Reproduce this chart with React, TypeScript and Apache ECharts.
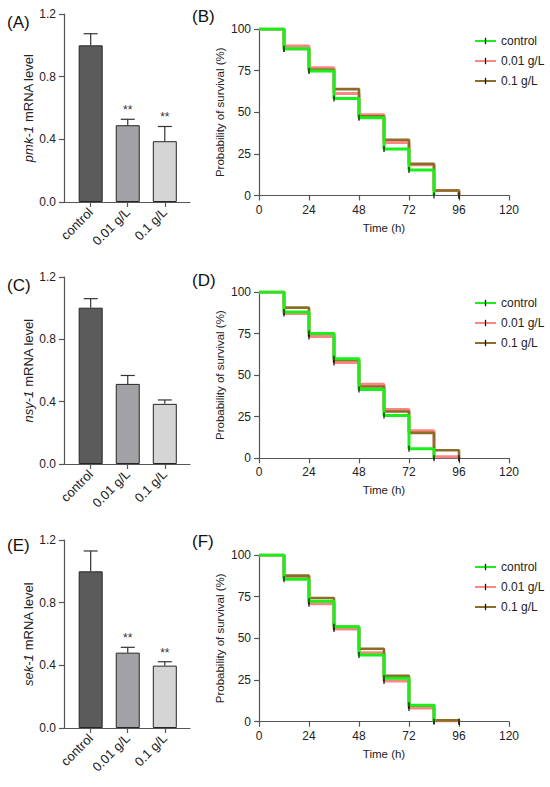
import React, { useEffect, useRef } from "react";
import * as echarts from "echarts";

// ---------- data ----------
const groups = ["control", "0.01 g/L", "0.1 g/L"];

const pmkMean = [1.0, 0.49, 0.388];
const pmkErrTop = [1.074, 0.528, 0.482];
const pmkSig = ["", "**", "**"];

const nsyMean = [1.003, 0.514, 0.386];
const nsyErrTop = [1.061, 0.568, 0.411];
const nsySig = ["", "", ""];

const sekMean = [1.0, 0.481, 0.398];
const sekErrTop = [1.13, 0.515, 0.423];
const sekSig = ["", "**", "**"];

const timePoints = [0, 12, 24, 36, 48, 60, 72, 84, 96];

const bControl = [100, 88.2, 74.7, 58.2, 46.7, 27.9, 15.3, 0];
const bLow = [100, 89.8, 76.8, 61.3, 48.5, 31.8, 18.5, 3, 0];
const bHigh = [100, 88, 75.5, 63.9, 47.5, 33.5, 19, 3, 0];

const dControl = [100, 88, 75.1, 59.8, 41.4, 25.7, 5.8, 0];
const dLow = [100, 87.1, 73.3, 57.6, 44.6, 29.3, 16.5, 1, 0];
const dHigh = [100, 90.6, 75, 59.2, 43.2, 28.1, 15.3, 4.8, 0];

const fControl = [100, 85.4, 72.2, 57, 40, 26, 9.8, 0];
const fLow = [100, 86.4, 70.8, 55.6, 41.4, 24.4, 8.2, 0.6, 0];
const fHigh = [100, 87.6, 74.2, 57, 43.8, 27.6, 9.8, 0.8, 0];

const barTicks = [0, 0.4, 0.8, 1.2];
const timeTicks = [0, 24, 48, 72, 96, 120];
const survTicks = [0, 25, 50, 75, 100];

// ---------- style ----------
const FONT = "Liberation Sans, Arial, sans-serif";
const AXIS_COLOR = "#555";
const TEXT_COLOR = "#222";
const barColors = ["#5b5b5b", "#a2a2a6", "#d5d5d5"];
const lineColors = ["#19f019", "#ff8585", "#8a6e28"];
const lineWidths = [3, 3, 2.6];
const lineZ = [4, 2, 3];
// thin vertical tick inside a square bounding box
const TICK_SYMBOL = "path://M0 0M6 6M2.4 0H3.6V6H2.4Z";

export default function App() {
  const ref = useRef<HTMLDivElement>(null);

  useEffect(() => {
    if (!ref.current) return;
    const chart = echarts.init(ref.current, undefined, { renderer: "svg" });

    const barPanels = [
      { top: 14, height: 188, gene: "pmk-1", mean: pmkMean, err: pmkErrTop, sig: pmkSig },
      { top: 277, height: 187, gene: "nsy-1", mean: nsyMean, err: nsyErrTop, sig: nsySig },
      { top: 540, height: 188, gene: "sek-1", mean: sekMean, err: sekErrTop, sig: sekSig },
    ];
    const survPanels = [
      { top: 29, height: 166.5, legendTop: 30, sets: [bControl, bLow, bHigh] },
      { top: 292, height: 166.3, legendTop: 292, sets: [dControl, dLow, dHigh] },
      { top: 555, height: 166.7, legendTop: 556, sets: [fControl, fLow, fHigh] },
    ];

    const grids: any[] = [];
    const xAxes: any[] = [];
    const yAxes: any[] = [];
    const series: any[] = [];
    const legends: any[] = [];

    const axisLine = { show: true, onZero: false, lineStyle: { color: AXIS_COLOR, width: 1.2 } };
    const axisTick = { show: true, length: 5, lineStyle: { color: AXIS_COLOR, width: 1.2 } };
    const axisLabel = { color: TEXT_COLOR, fontSize: 12, fontFamily: FONT, margin: 8 };

    barPanels.forEach((p) => {
      const gi = grids.length;
      grids.push({ left: 64, top: p.top, width: 126, height: p.height });
      xAxes.push({
        type: "value",
        gridIndex: gi,
        min: -0.72,
        max: 2.68,
        axisLine,
        axisTick: { ...axisTick, customValues: [0, 1, 2] },
        axisLabel: {
          ...axisLabel,
          fontSize: 13,
          rotate: 45,
          customValues: [0, 1, 2],
          formatter: (v: number) => groups[Math.round(v)] ?? "",
        },
        splitLine: { show: false },
      });
      yAxes.push({
        type: "value",
        gridIndex: gi,
        min: 0,
        max: 1.2,
        interval: 0.4,
        axisLine,
        axisTick,
        axisLabel: { ...axisLabel, formatter: (v: number) => v.toFixed(1), customValues: barTicks },
        splitLine: { show: false },
        name: `{i|${p.gene}} mRNA level`,
        nameLocation: "middle",
        nameGap: 25,
        nameTextStyle: {
          fontSize: 13,
          color: TEXT_COLOR,
          fontFamily: FONT,
          rich: { i: { fontStyle: "italic", fontSize: 13, fontFamily: FONT, color: TEXT_COLOR } },
        },
      });
      series.push({
        type: "bar",
        xAxisIndex: gi,
        yAxisIndex: gi,
        barWidth: 24,
        data: p.mean.map((m, k) => ({
          value: [k, m],
          itemStyle: { color: barColors[k], borderColor: "#262626", borderWidth: 1 },
        })),
      });
      const sig = p.sig;
      series.push({
        type: "custom",
        xAxisIndex: gi,
        yAxisIndex: gi,
        z: 5,
        data: p.mean.map((m, k) => [k, m, p.err[k]]),
        renderItem: (params: any, api: any) => {
          const x = api.value(0);
          const p0 = api.coord([x, api.value(1)]);
          const p1 = api.coord([x, api.value(2)]);
          const children: any[] = [
            { type: "line", shape: { x1: p0[0], y1: p0[1], x2: p1[0], y2: p1[1] }, style: { stroke: "#333", lineWidth: 1.2 } },
            { type: "line", shape: { x1: p1[0] - 7, y1: p1[1], x2: p1[0] + 7, y2: p1[1] }, style: { stroke: "#333", lineWidth: 1.2 } },
          ];
          const s = sig[params.dataIndex];
          if (s) {
            children.push({
              type: "text",
              style: {
                text: s,
                x: p1[0],
                y: p1[1] - 9,
                align: "center",
                verticalAlign: "middle",
                fill: "#333",
                font: `12px ${FONT}`,
              },
            });
          }
          return { type: "group", children };
        },
      });
    });

    survPanels.forEach((p) => {
      const gi = grids.length;
      grids.push({ left: 259, top: p.top, width: 250, height: p.height });
      xAxes.push({
        type: "value",
        gridIndex: gi,
        min: 0,
        max: 120,
        interval: 24,
        axisLine,
        axisTick,
        axisLabel: { ...axisLabel, customValues: timeTicks },
        splitLine: { show: false },
        name: "Time (h)",
        nameLocation: "middle",
        nameGap: 26,
        nameTextStyle: { fontSize: 11.5, color: TEXT_COLOR, fontFamily: FONT },
      });
      yAxes.push({
        type: "value",
        gridIndex: gi,
        min: 0,
        max: 100,
        interval: 25,
        axisLine,
        axisTick,
        axisLabel: { ...axisLabel, customValues: survTicks },
        splitLine: { show: false },
        name: "Probability of survival (%)",
        nameLocation: "middle",
        nameGap: 33,
        nameTextStyle: { fontSize: 11.5, color: TEXT_COLOR, fontFamily: FONT },
      });
      p.sets.forEach((vals, k) => {
        series.push({
          type: "line",
          name: groups[k],
          xAxisIndex: gi,
          yAxisIndex: gi,
          step: "end",
          z: lineZ[k],
          lineStyle: { color: lineColors[k], width: lineWidths[k] },
          itemStyle: { color: "#111" },
          color: lineColors[k],
          symbol: TICK_SYMBOL,
          symbolSize: 6,
          data: vals.map((v, j) =>
            j === 0 ? { value: [timePoints[j], v], symbol: "none" } : { value: [timePoints[j], v] }
          ),
        });
      });
      legends.push({
        orient: "vertical",
        left: 469,
        top: p.legendTop,
        itemWidth: 21,
        itemHeight: 8,
        itemGap: 8,
        selectedMode: false,
        data: groups,
        textStyle: { fontSize: 12, color: TEXT_COLOR, fontFamily: FONT, lineHeight: 12 },
      });
    });

    const panelLabels = [
      { t: "(A)", x: 7, y: 24 },
      { t: "(B)", x: 192, y: 18 },
      { t: "(C)", x: 7, y: 287 },
      { t: "(D)", x: 192, y: 282 },
      { t: "(E)", x: 7, y: 547 },
      { t: "(F)", x: 192, y: 543 },
    ];

    chart.setOption({
      animation: false,
      backgroundColor: "#fff",
      grid: grids,
      xAxis: xAxes,
      yAxis: yAxes,
      series,
      legend: legends,
      graphic: panelLabels.map((l) => ({
        type: "text",
        left: l.x,
        top: l.y - 10,
        style: { text: l.t, font: `17px ${FONT}`, fill: "#111" },
      })),
    });

    return () => chart.dispose();
  }, []);

  return <div ref={ref} style={{ position: "absolute", left: 0, top: 0, width: 550, height: 787 }} />;
}
